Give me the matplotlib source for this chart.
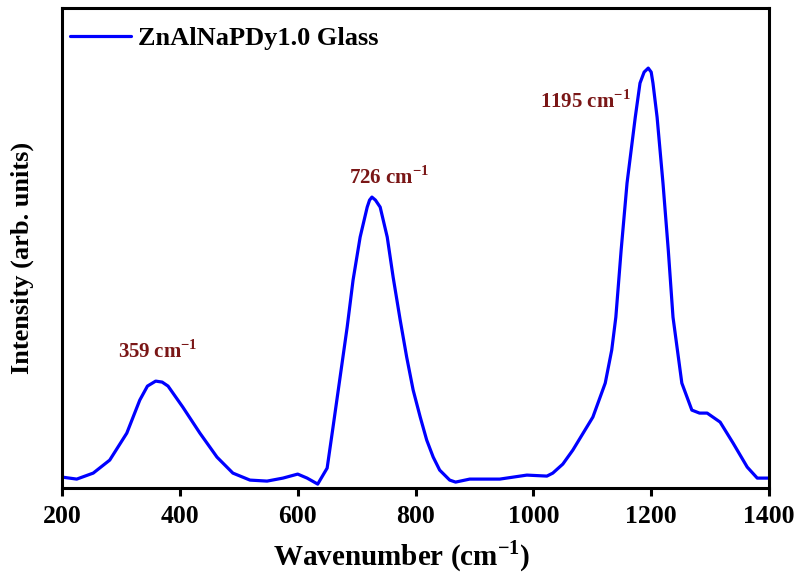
import matplotlib
matplotlib.use("Agg")
import matplotlib.pyplot as plt

# Raman spectrum of the ZnAlNaPDy1.0 glass (arbitrary intensity units)
wavenumber = [200, 225, 253, 281, 310, 332, 345, 359, 370, 380, 405, 434, 463, 490,
              519, 548, 575, 600, 616, 634, 650, 660, 672, 684, 694, 706, 718, 722,
              726, 732, 740, 752, 762, 774, 785, 796, 808, 819, 830, 841, 858, 868,
              892, 943, 989, 1023, 1033, 1050, 1067, 1101, 1122, 1133, 1140, 1149,
              1159, 1173, 1181, 1188, 1195, 1200, 1203, 1210, 1220, 1229, 1237, 1252,
              1269, 1282, 1295, 1317, 1339, 1363, 1380, 1400]
intensity = [11, 9, 15, 28, 55, 88, 102, 107, 106, 102, 81, 55, 31, 15,
             8, 7, 10, 14, 10, 4, 20, 61, 111, 161, 208, 251, 281, 288,
             291, 288, 281, 251, 211, 168, 131, 98, 71, 48, 31, 18, 8, 6,
             9, 9, 13, 12, 15, 24, 38, 71, 105, 138, 171, 238,
             305, 371, 405, 416, 420, 416, 405, 371, 305, 238, 171, 105,
             78, 75, 75, 66, 45, 21, 10, 10]

peak_positions = [359, 726, 1195]
peak_label_x = [362, 755, 1088]
peak_label_y = [130, 304, 380]

x_ticks = [200, 400, 600, 800, 1000, 1200, 1400]

serif = ["Liberation Serif", "DejaVu Serif"]
plt.rcParams["font.family"] = serif
plt.rcParams["font.weight"] = "bold"
plt.rcParams["mathtext.fontset"] = "custom"
plt.rcParams["mathtext.rm"] = "Liberation Serif:bold"
plt.rcParams["mathtext.bf"] = "Liberation Serif:bold"

fig = plt.figure(figsize=(7.98, 5.79), dpi=100)
ax = fig.add_axes([0.0777, 0.157, 0.886, 0.829])

ax.plot(wavenumber, intensity, color="#0000ff", lw=2.3,
        label="ZnAlNaPDy1.0 Glass", solid_capstyle="round")

for pos, lx, ly in zip(peak_positions, peak_label_x, peak_label_y):
    ax.text(lx, ly, f"{pos} cm$^{{-1}}$", color="#7a1616", fontsize=15,
            fontweight="bold", ha="center", va="baseline")

ax.set_xlim(200, 1400)
ax.set_ylim(0, 480)
ax.set_xticks(x_ticks)
ax.set_yticks([])
ax.tick_params(axis="x", direction="out", length=6, width=2.2,
               labelsize=18.5, pad=6)
for lbl in ax.get_xticklabels():
    lbl.set_fontweight("bold")
for sp in ax.spines.values():
    sp.set_linewidth(2.2)

ax.set_xlabel("Wavenumber (cm$^{-1}$)", fontsize=21, fontweight="bold", labelpad=8)
ax.xaxis.label.set_x(0.48)
ax.set_ylabel("Intensity (arb. units)", fontsize=19, fontweight="bold")
ax.yaxis.set_label_coords(-0.040, 0.48)

leg = ax.legend(loc="upper left", bbox_to_anchor=(0.012, 0.962), frameon=False,
                fontsize=19, handlelength=2.3, borderaxespad=0, borderpad=0,
                handletextpad=0.25)
for t in leg.get_texts():
    t.set_fontweight("bold")

fig.savefig("out.png", dpi=100)
